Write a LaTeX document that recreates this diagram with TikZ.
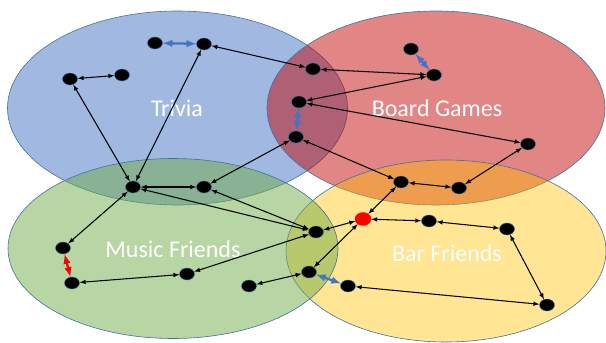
\documentclass[tikz,border=0pt]{standalone}
\usepackage{fontspec}
\setmainfont{Carlito}
\usetikzlibrary{arrows,shapes.geometric}
\definecolor{tblue}{HTML}{4472C4}
\definecolor{gred}{HTML}{C00000}
\definecolor{mgreen}{HTML}{70AD47}
\definecolor{byellow}{HTML}{FFC000}
\definecolor{rim}{HTML}{41719C}

\begin{document}
\begin{tikzpicture}[x=1pt,y=-1pt,
  grp/.style={draw=rim,line width=0.6pt,fill opacity=0.5},
  pers/.style={ellipse,fill=black,draw=rim,line width=0.4pt,inner sep=0pt,minimum width=15pt,minimum height=12pt},
  lab/.style={text=white,font=\fontsize{24}{28}\selectfont},
  acq/.style={latex-latex,line width=1.05pt},
  pal/.style={latex-latex,line width=2.3pt,color=tblue}]
\useasboundingbox (0,0) rectangle (606,343);
% the four groups, edit here for size and place
\draw[grp,fill=tblue] (177.5,108) ellipse [x radius=170pt,y radius=97pt];
\draw[grp,fill=gred,fill opacity=0.48] (436,108) ellipse [x radius=169pt,y radius=97pt];
\draw[grp,fill=byellow,fill opacity=0.42] (446,251) ellipse [x radius=160pt,y radius=91pt];
\draw[grp,fill=mgreen] (173,248.5) ellipse [x radius=165pt,y radius=90pt];
\node[lab] (trivia) at (177,108) {Trivia};
\node[lab] (board) at (437,108) {Board Games};
\node[lab] (music) at (173,249) {Music Friends};
\node[lab] (bar) at (447,253) {Bar Friends};
% people
\node[pers] (t1) at (155,43) {};
\node[pers] (t2) at (204,44) {};
\node[pers] (t3) at (70,79) {};
\node[pers] (t4) at (122,75) {};
\node[pers] (b1) at (411,49) {};
\node[pers] (b2) at (434,75) {};
\node[pers] (b3) at (528,144) {};
\node[pers] (o1) at (313,69) {};
\node[pers] (o2) at (299,102) {};
\node[pers] (o3) at (296,137) {};
\node[pers] (y1) at (401,182) {};
\node[pers] (y2) at (459,188) {};
\node[pers] (y3) at (429,221) {};
\node[pers] (y4) at (507,229) {};
\node[pers] (y5) at (547,305) {};
\node[pers] (y6) at (348,286) {};
\node[pers,fill=red,draw=red,minimum width=16pt,minimum height=13pt] (me) at (363,219) {};
\node[pers] (gy1) at (316,232) {};
\node[pers] (gy2) at (309,272) {};
\node[pers] (m1) at (133,187) {};
\node[pers] (m2) at (204,187) {};
\node[pers] (m3) at (63,248) {};
\node[pers] (m4) at (72,283) {};
\node[pers] (m5) at (187,274) {};
\node[pers] (m6) at (249,286) {};
% who knows whom
\foreach \a/\b in {t2/o1,t3/t4,m1/t3,m1/t2,b2/o1,b2/o2,o2/b3,o3/m2,o3/y1,b3/y2,y1/y2,y1/me,me/y3,y3/y4,y4/y5,y5/y6,me/gy1,me/gy2,gy1/m1,gy1/m2,gy1/m5,gy2/m6,m1/m2,m1/m3,m4/m5}
\draw[acq] (\a) -- (\b);
\foreach \a/\b in {t1/t2,b1/b2,o2/o3,y6/gy2} % close pairs
\draw[pal] (\a) -- (\b);
\draw[pal,color=red] (m3) -- (m4);
\end{tikzpicture}
\end{document}
